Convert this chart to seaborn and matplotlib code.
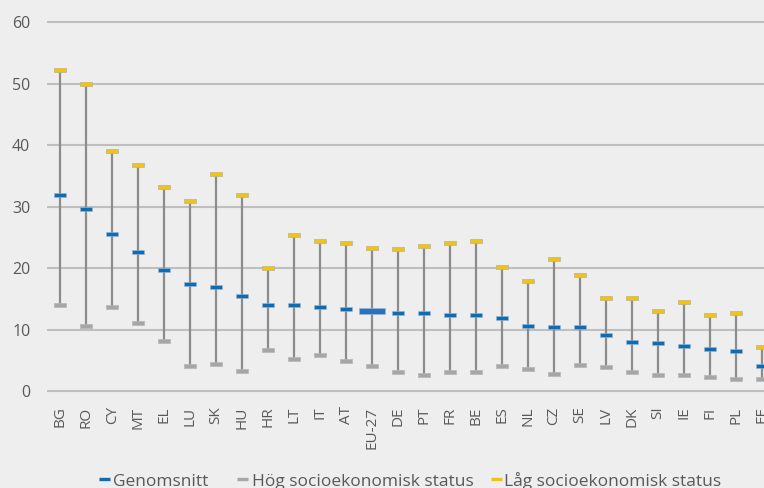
import numpy as np
import pandas as pd
import matplotlib.pyplot as plt
import seaborn as sns
from matplotlib.lines import Line2D
from matplotlib.path import Path

countries = ['BG', 'RO', 'CY', 'MT', 'EL', 'LU', 'SK', 'HU', 'HR', 'LT', 'IT', 'AT', 'EU-27', 'DE',
             'PT', 'FR', 'BE', 'ES', 'NL', 'CZ', 'SE', 'LV', 'DK', 'SI', 'IE', 'FI', 'PL', 'EE']
genomsnitt = [32.0, 29.6, 25.6, 22.6, 19.8, 17.5, 17.0, 15.5, 14.0, 14.0, 13.7, 13.4, 13.1, 12.7,
              12.7, 12.5, 12.5, 11.9, 10.7, 10.4, 10.4, 9.1, 8.1, 7.9, 7.4, 6.9, 6.6, 4.1]
hog_status = [14.0, 10.7, 13.7, 11.2, 8.2, 4.1, 4.4, 3.4, 6.7, 5.2, 5.9, 4.9, 4.1, 3.1,
              2.6, 3.1, 3.1, 4.1, 3.6, 2.8, 4.3, 3.9, 3.1, 2.6, 2.6, 2.3, 2.1, 2.1]
lag_status = [52.2, 50.0, 39.1, 36.8, 33.2, 30.9, 35.3, 32.0, 20.1, 25.4, 24.4, 24.1, 23.4, 23.1,
              23.6, 24.1, 24.4, 20.3, 18.0, 21.6, 19.0, 15.2, 15.2, 13.0, 14.5, 12.5, 12.7, 7.2]
yticks = [0, 10, 20, 30, 40, 50, 60]

labels = ['Genomsnitt', 'Hög socioekonomisk status', 'Låg socioekonomisk status']

df = pd.DataFrame({'land': countries, 'mean': genomsnitt, 'hog': hog_status, 'lag': lag_status})

bg = '#eeeeee'
blue = '#0b6cb8'
gray_mark = '#a6a6a6'
yellow = '#f7c400'
text_col = '#595959'

sns.set_theme(style='white', rc={'axes.facecolor': bg, 'figure.facecolor': bg})
plt.rcParams['font.family'] = ['Open Sans', 'DejaVu Sans']

# flat bar markers
def bar_marker(ratio):
    return Path([(-1, -ratio), (1, -ratio), (1, ratio), (-1, ratio), (-1, -ratio)],
                [Path.MOVETO, Path.LINETO, Path.LINETO, Path.LINETO, Path.CLOSEPOLY])

small = bar_marker(0.34)
wide = bar_marker(0.2)

fig = plt.figure(figsize=(7.64, 4.88), dpi=100)
# axes placement: x axis runs past right edge (chart is cropped)
ax = fig.add_axes([47 / 764, 1 - 393.3 / 488, 717 / 764, (393.3 - 20.5) / 488])

ax.vlines(df['land'], df['hog'], df['lag'], color='#8c8c8c', linewidth=1.6, zorder=2)

sns.scatterplot(data=df, x='land', y='hog', marker=small, s=64, color=gray_mark,
                edgecolor='#b5b5b5', linewidth=0.5, zorder=3, ax=ax)
sns.scatterplot(data=df, x='land', y='lag', marker=small, s=64, color=yellow,
                edgecolor='#b0b0b0', linewidth=0.5, zorder=3, ax=ax)
df_eu = df[df['land'] == 'EU-27']
df_rest = df[df['land'] != 'EU-27']
sns.scatterplot(data=df_rest, x='land', y='mean', marker=small, s=64, color=blue,
                edgecolor='#9fb6cc', linewidth=0.4, zorder=4, ax=ax)
sns.scatterplot(data=df_eu, x='land', y='mean', marker=wide, s=330, color='#2a72bd',
                edgecolor='#9fb6cc', linewidth=0.5, zorder=4, ax=ax)

ax.set_xlim(-0.51, 27.09)
ax.set_ylim(-0.3, 60.3)
ax.set_yticks(yticks)
ax.yaxis.grid(True, color='#bfbfbf', linewidth=1.5)
ax.set_axisbelow(True)
ax.set_xlabel('')
ax.set_ylabel('')
for sp in ax.spines.values():
    sp.set_visible(False)
ax.tick_params(axis='y', length=0, pad=12, labelsize=11.5, labelcolor=text_col)
ax.tick_params(axis='x', length=0, pad=9.5, labelsize=11, labelcolor=text_col, rotation=90)
if ax.get_legend():
    ax.get_legend().remove()

# legend along the bottom
leg_colors = [blue, gray_mark, yellow]
dash_x = [(99, 110), (237, 248), (491, 502)]
text_x = [113, 252, 504]
for c, (x0, x1), tx, lab in zip(leg_colors, dash_x, text_x, labels):
    fig.add_artist(Line2D([x0 / 764, x1 / 764], [1 - 479 / 488] * 2, color=c,
                          linewidth=2.4, solid_capstyle='butt'))
    fig.text(tx / 764, 1 - 486 / 488, lab, fontsize=12.5, color=text_col, va='baseline', ha='left')

fig.savefig('out.png', dpi=100, facecolor=bg)
